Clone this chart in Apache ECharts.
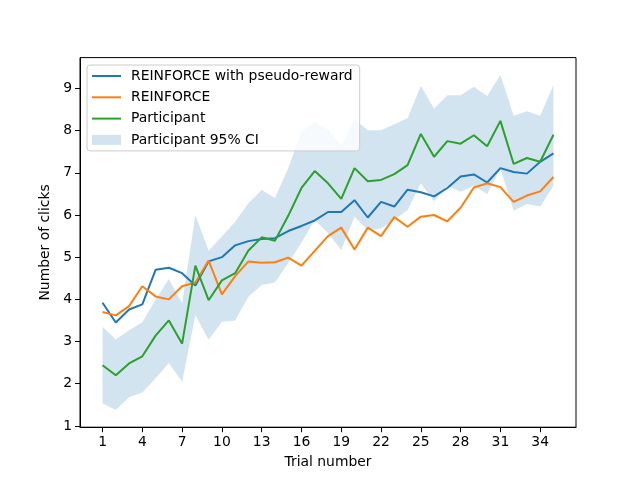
<!DOCTYPE html>
<html>
<head>
<meta charset="utf-8">
<title>Number of clicks per trial</title>
<script src="https://cdn.jsdelivr.net/npm/echarts@6/dist/echarts.min.js"></script>
<style>
  html, body { margin: 0; padding: 0; background: #fff; }
  #container { width: 640px; height: 480px; }
</style>
</head>
<body>
<div id="container"></div>
<script>
// trial numbers
var trials = [1,2,3,4,5,6,7,8,9,10,11,12,13,14,15,16,17,18,19,20,21,22,23,24,25,26,27,28,29,30,31,32,33,34,35];
var xTicks = [1,4,7,10,13,16,19,22,25,28,31,34];
var yTicks = [1,2,3,4,5,6,7,8,9];

// REINFORCE with pseudo-reward
var pseudoReward = [3.92,3.45,3.76,3.88,4.70,4.75,4.62,4.33,4.90,5.00,5.28,5.38,5.43,5.45,5.62,5.74,5.87,6.07,6.07,6.35,5.94,6.31,6.20,6.60,6.54,6.44,6.64,6.91,6.96,6.77,7.11,7.02,6.98,7.26,7.46];
// REINFORCE
var reinforce = [3.70,3.62,3.84,4.31,4.07,4.00,4.31,4.40,4.92,4.12,4.55,4.90,4.87,4.88,4.99,4.80,5.15,5.50,5.70,5.18,5.70,5.50,5.95,5.72,5.96,6.00,5.85,6.17,6.65,6.75,6.66,6.31,6.46,6.56,6.90];
// Participant mean
var participant = [2.44,2.20,2.48,2.65,3.14,3.50,2.95,4.80,3.98,4.45,4.62,5.16,5.47,5.39,5.98,6.64,7.04,6.75,6.38,7.11,6.80,6.83,6.97,7.18,7.92,7.38,7.75,7.69,7.89,7.63,8.23,7.21,7.35,7.26,7.90];
// Participant 95% CI bounds
var ciUpper = [3.35,3.05,3.27,3.46,3.99,4.48,3.91,6.00,5.15,5.49,5.84,6.28,6.59,6.40,7.11,7.97,8.21,8.03,7.65,8.27,8.01,8.01,8.15,8.29,9.06,8.52,8.84,8.84,9.04,8.82,9.32,8.35,8.46,8.35,9.08];
var ciLower = [1.54,1.38,1.68,1.79,2.13,2.49,2.05,3.63,3.04,3.47,3.50,4.06,4.34,4.40,4.86,5.35,5.88,5.57,5.17,5.96,5.64,5.68,5.88,6.12,6.75,6.32,6.69,6.55,6.69,6.50,7.10,6.10,6.26,6.20,6.69];

function pairs(ys) {
    return trials.map(function (t, i) { return [t, ys[i]]; });
}

var font = 'DejaVu Sans';
var ciColor = 'rgba(31,119,180,0.2)';
var lineIcon = 'path://M0,0H29V2H0Z';

// band between ciLower and ciUpper, one polygon through the axis scales
function renderBand(params, api) {
    var pts = [];
    for (var i = 0; i < trials.length; i++) {
        pts.push(api.coord([trials[i], ciUpper[i]]));
    }
    for (var j = trials.length - 1; j >= 0; j--) {
        pts.push(api.coord([trials[j], ciLower[j]]));
    }
    return {
        type: 'polygon',
        shape: { points: pts },
        style: { fill: ciColor, stroke: null }
    };
}

var myChart = echarts.init(document.getElementById('container'), null, { renderer: 'canvas' });
var option = {
    animation: false,
    backgroundColor: '#fff',
    grid: {
        left: 80, right: 64, top: 57.6, bottom: 52.8,
        show: true, borderColor: '#000', borderWidth: 1, backgroundColor: 'transparent'
    },
    legend: {
        orient: 'vertical',
        left: 87, top: 65,
        padding: [4, 7, 4, 5],
        itemWidth: 29, itemHeight: 10, itemGap: 7.3,
        backgroundColor: 'rgba(255,255,255,0.8)',
        borderColor: '#cccccc', borderWidth: 1, borderRadius: 3,
        textStyle: { fontFamily: font, fontSize: 13.9, color: '#000', lineHeight: 14, padding: [0, 0, 0, 5] },
        data: [
            { name: 'REINFORCE with pseudo-reward', icon: lineIcon, itemStyle: { color: '#1f77b4' } },
            { name: 'REINFORCE', icon: lineIcon, itemStyle: { color: '#ff7f0e' } },
            { name: 'Participant', icon: lineIcon, itemStyle: { color: '#2ca02c' } },
            { name: 'Participant 95% CI', icon: 'rect', itemStyle: { color: ciColor } }
        ]
    },
    xAxis: {
        type: 'value', min: -0.7, max: 36.7,
        name: 'Trial number', nameLocation: 'middle', nameGap: 28,
        nameTextStyle: { fontFamily: font, fontSize: 13.9, color: '#000' },
        axisLine: { show: true, onZero: false, lineStyle: { color: '#000', width: 1 } },
        axisTick: { show: true, length: 5, customValues: xTicks, lineStyle: { color: '#000' } },
        axisLabel: { customValues: xTicks, margin: 8, fontFamily: font, fontSize: 13.9, color: '#000' },
        splitLine: { show: false }
    },
    yAxis: {
        type: 'value', min: 0.97, max: 9.73,
        name: 'Number of clicks', nameLocation: 'middle', nameGap: 23, nameRotate: 90,
        nameTextStyle: { fontFamily: font, fontSize: 13.9, color: '#000' },
        axisLine: { show: true, onZero: false, lineStyle: { color: '#000', width: 1 } },
        axisTick: { show: true, length: 5, customValues: yTicks, lineStyle: { color: '#000' } },
        axisLabel: { customValues: yTicks, margin: 8, fontFamily: font, fontSize: 13.9, color: '#000' },
        splitLine: { show: false }
    },
    series: [
        {
            name: 'Participant 95% CI', type: 'custom', coordinateSystem: 'cartesian2d',
            renderItem: renderBand, data: [[trials[0], ciLower[0]]],
            silent: true, itemStyle: { color: ciColor }, z: 1
        },
        {
            name: 'REINFORCE with pseudo-reward', type: 'line', data: pairs(pseudoReward),
            symbol: 'none', itemStyle: { color: '#1f77b4' }, lineStyle: { color: '#1f77b4', width: 2 }, z: 2
        },
        {
            name: 'REINFORCE', type: 'line', data: pairs(reinforce),
            symbol: 'none', itemStyle: { color: '#ff7f0e' }, lineStyle: { color: '#ff7f0e', width: 2 }, z: 2
        },
        {
            name: 'Participant', type: 'line', data: pairs(participant),
            symbol: 'none', itemStyle: { color: '#2ca02c' }, lineStyle: { color: '#2ca02c', width: 2 }, z: 2
        }
    ]
};
myChart.setOption(option);
</script>
</body>
</html>
